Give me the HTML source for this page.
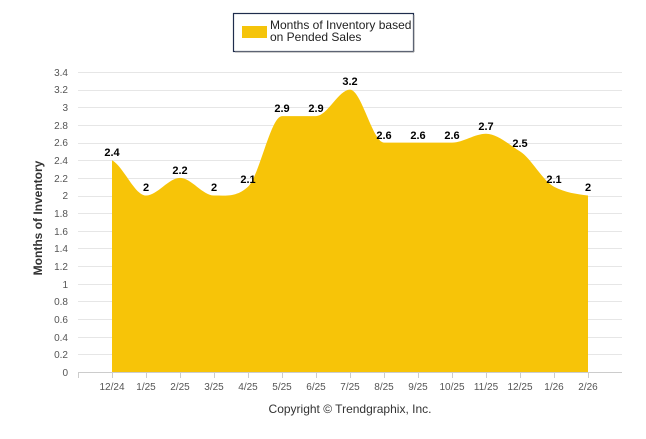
<!DOCTYPE html>
<html><head><meta charset="utf-8"><style>
body{margin:0;background:#fff;}
svg text{font-family:"Liberation Sans",Arial,sans-serif;}
</style></head><body>
<svg id="s" width="646" height="434" viewBox="0 0 646 434" xmlns="http://www.w3.org/2000/svg">
<rect x="233.5" y="13.5" width="180" height="38" fill="#fff" stroke="#1f2d4d" stroke-width="1.2"/>
<line x1="414" y1="15" x2="414" y2="52" stroke="#999" stroke-width="1"/>
<line x1="235" y1="52" x2="414" y2="52" stroke="#999" stroke-width="1"/>
<rect x="242" y="26" width="25" height="12" fill="#f5c40a"/>
<text x="270" y="29" font-size="12" fill="#222">Months of Inventory based</text>
<text x="270" y="41" font-size="12" fill="#222">on Pended Sales</text>
<g id="grid" stroke="#e6e6e6" stroke-width="1"></g>
<path id="area" fill="#f7c408"/>
<line x1="78" y1="372.5" x2="622" y2="372.5" stroke="#ccc"/>
<g id="ticks" stroke="#ccc"></g>
<g font-size="10" fill="#555" text-anchor="end">
<text x="68" y="376">0</text><text x="68" y="358">0.2</text><text x="68" y="341">0.4</text><text x="68" y="323">0.6</text><text x="68" y="305">0.8</text><text x="68" y="288">1</text><text x="68" y="270">1.2</text><text x="68" y="252">1.4</text><text x="68" y="235">1.6</text><text x="68" y="217">1.8</text><text x="68" y="199">2</text><text x="68" y="182">2.2</text><text x="68" y="164">2.4</text><text x="68" y="146">2.6</text><text x="68" y="129">2.8</text><text x="68" y="111">3</text><text x="68" y="93">3.2</text><text x="68" y="76">3.4</text>
</g>
<g font-size="10" fill="#555" text-anchor="middle">
<text x="112" y="390">12/24</text><text x="146" y="390">1/25</text><text x="180" y="390">2/25</text><text x="214" y="390">3/25</text><text x="248" y="390">4/25</text><text x="282" y="390">5/25</text><text x="316" y="390">6/25</text><text x="350" y="390">7/25</text><text x="384" y="390">8/25</text><text x="418" y="390">9/25</text><text x="452" y="390">10/25</text><text x="486" y="390">11/25</text><text x="520" y="390">12/25</text><text x="554" y="390">1/26</text><text x="588" y="390">2/26</text>
</g>
<g font-size="11" font-weight="bold" fill="#000" text-anchor="middle">
<text x="112" y="156">2.4</text><text x="146" y="191">2</text><text x="180" y="174">2.2</text><text x="214" y="191">2</text><text x="248" y="183">2.1</text><text x="282" y="112">2.9</text><text x="316" y="112">2.9</text><text x="350" y="85">3.2</text><text x="384" y="139">2.6</text><text x="418" y="139">2.6</text><text x="452" y="139">2.6</text><text x="486" y="130">2.7</text><text x="520" y="147">2.5</text><text x="554" y="183">2.1</text><text x="588" y="191">2</text>
</g>
<text transform="translate(42,218) rotate(-90)" font-size="12" font-weight="bold" fill="#333" text-anchor="middle">Months of Inventory</text>
<text x="350" y="413" font-size="12" fill="#333" text-anchor="middle">Copyright © Trendgraphix, Inc.</text>
</svg>
<script>
var ns="http://www.w3.org/2000/svg";
var g=document.getElementById('grid');
for(var i=1;i<=17;i++){var y=Math.round(372-i*300/17)+0.5;var l=document.createElementNS(ns,'line');l.setAttribute('x1',78);l.setAttribute('x2',622);l.setAttribute('y1',y);l.setAttribute('y2',y);g.appendChild(l);}
var t=document.getElementById('ticks');
for(var i=0;i<16;i++){var x=78+34*i+0.5;var l=document.createElementNS(ns,'line');l.setAttribute('x1',x);l.setAttribute('x2',x);l.setAttribute('y1',372);l.setAttribute('y2',378);t.appendChild(l);}
var v=[2.4,2,2.2,2,2.1,2.9,2.9,3.2,2.6,2.6,2.6,2.7,2.5,2.1,2];
var P=v.map(function(a,i){return [112+34*i,372-a*300/3.4];});
var n=P.length,S=[];
for(var i=0;i<n;i++){
 var a=P[i-1],b=P[i+1],p=P[i],s;
 if(!a) s=(b[1]-p[1])/34*0.5; else if(!b) s=(p[1]-a[1])/34*0.5;
 else if((p[1]-a[1])*(b[1]-p[1])<=0 && !(a[1]==p[1]&&b[1]==p[1])) s=0;
 else s=(b[1]-a[1])/68*0.8;
 S.push(s);}
var d='M112,372 L'+P[0][0]+','+P[0][1];
for(var i=1;i<n;i++){var h=34/3;
 d+=' C'+(P[i-1][0]+h)+','+(P[i-1][1]+S[i-1]*h)+' '+(P[i][0]-h)+','+(P[i][1]-S[i]*h)+' '+P[i][0]+','+P[i][1];}
d+=' L588,372 Z';
document.getElementById('area').setAttribute('d',d);
</script>
</body></html>
